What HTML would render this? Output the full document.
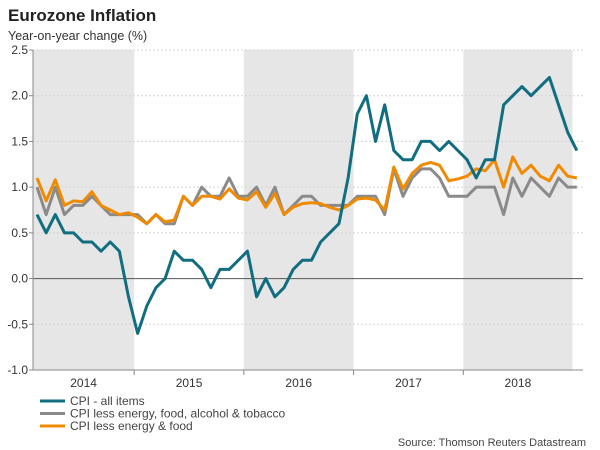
<!DOCTYPE html>
<html><head><meta charset="utf-8"><style>
body{margin:0;background:#fff;font-family:"Liberation Sans",sans-serif;}
svg{display:block}
</style></head><body>
<svg width="600" height="450" xmlns="http://www.w3.org/2000/svg">
<text x="8" y="21" font-size="17" font-weight="bold" fill="#222">Eurozone Inflation</text>
<text x="8" y="40" font-size="12.5" fill="#333">Year-on-year change (%)</text>
<g id="shade"></g><g id="grid"></g><g id="axes"></g><g id="series"></g>
<g font-size="12" fill="#444">
<line x1="40" y1="401" x2="65" y2="401" stroke="#116e80" stroke-width="3"/>
<text x="70" y="405">CPI - all items</text>
<line x1="40" y1="413.5" x2="65" y2="413.5" stroke="#8a8a8a" stroke-width="3"/>
<text x="70" y="417.5">CPI less energy, food, alcohol &amp; tobacco</text>
<line x1="40" y1="426" x2="65" y2="426" stroke="#f08a00" stroke-width="3"/>
<text x="70" y="430">CPI less energy &amp; food</text>
</g>
<text x="586" y="446" font-size="11" fill="#444" text-anchor="end">Source: Thomson Reuters Datastream</text>
</svg>
<script>
const years=["2014","2015","2016","2017","2018"];
const yTicks=[2.5,2.0,1.5,1.0,0.5,0.0,-0.5,-1.0];
const cpiAll=[0.7,0.5,0.7,0.5,0.5,0.4,0.4,0.3,0.4,0.3,-0.2,-0.6,-0.3,-0.1,0.0,0.3,0.2,0.2,0.1,-0.1,0.1,0.1,0.2,0.3,-0.2,0.0,-0.2,-0.1,0.1,0.2,0.2,0.4,0.5,0.6,1.1,1.8,2.0,1.5,1.9,1.4,1.3,1.3,1.5,1.5,1.4,1.5,1.4,1.3,1.1,1.3,1.3,1.9,2.0,2.1,2.0,2.1,2.2,1.9,1.6,1.4];
const cpiCore=[1.0,0.7,1.0,0.7,0.8,0.8,0.9,0.8,0.7,0.7,0.7,0.7,0.6,0.7,0.6,0.6,0.9,0.8,1.0,0.9,0.9,1.1,0.9,0.9,1.0,0.8,1.0,0.7,0.8,0.9,0.9,0.8,0.8,0.8,0.8,0.9,0.9,0.9,0.7,1.2,0.9,1.1,1.2,1.2,1.1,0.9,0.9,0.9,1.0,1.0,1.0,0.7,1.1,0.9,1.1,1.0,0.9,1.1,1.0,1.0];
const cpiExEF=[1.1,0.85,1.08,0.8,0.85,0.84,0.95,0.8,0.75,0.7,0.72,0.67,0.6,0.7,0.62,0.64,0.9,0.8,0.9,0.9,0.87,0.98,0.88,0.86,0.95,0.78,0.93,0.7,0.78,0.82,0.83,0.82,0.78,0.75,0.8,0.87,0.88,0.86,0.75,1.22,0.98,1.15,1.24,1.27,1.24,1.07,1.09,1.12,1.2,1.18,1.3,1.0,1.33,1.15,1.24,1.12,1.07,1.24,1.12,1.1];
const NS="http://www.w3.org/2000/svg";
const X0=37,DX=9.15,PL=33,PR=583,PT=50,PB=370,VMIN=-1,VMAX=2.5;
const xi=i=>X0+i*DX;
const yv=v=>PB-(v-VMIN)/(VMAX-VMIN)*(PB-PT);
const yearStart=k=>Math.max(PL,24.5+k*109.7);
const yearEnd=k=>Math.min(572.5,24.5+(k+1)*109.7);
function mk(tag,attrs,parent){const e=document.createElementNS(NS,tag);for(const k in attrs)e.setAttribute(k,attrs[k]);document.getElementById(parent).appendChild(e);return e;}
years.forEach((y,k)=>{
  const s=yearStart(k),e=yearEnd(k);
  if(k%2===0){const r=mk('rect',{x:s,y:PT,width:e-s,height:PB-PT,fill:'#e6e6e6'},'shade');
  
  }
  const t=mk('text',{x:(s+e)/2,y:387,'font-size':12,fill:'#333','text-anchor':'middle'},'axes');
  t.textContent=y;
  
  
  if(k>0){const tk=mk('line',{x1:s,x2:s,y1:PB,y2:PB+5,stroke:'#888'},'axes');
  
  }
});
yTicks.forEach(v=>{
  const y=yv(v);
  const g=mk('line',{x1:PL,x2:PR,y1:y,y2:y,stroke:v===0?'#555':'#d4d4d4','stroke-width':1,'stroke-dasharray':v===0?'':'2,2'},'grid');
  
  
  const t=mk('text',{x:28,y:y+4,'font-size':12,fill:'#333','text-anchor':'end'},'axes');
  t.textContent=v.toFixed(1);
  
  
  const tk=mk('line',{x1:PL-4,x2:PL,y1:y,y2:y,stroke:'#888'},'axes');
  
  
});
const ax=mk('line',{x1:PL,x2:PL,y1:PT,y2:PB,stroke:'#888'},'axes');


const bx=mk('line',{x1:PL,x2:PR,y1:PB,y2:PB,stroke:'#888'},'axes');


function line(data,color,name){
  const p=mk('polyline',{points:data.map((v,i)=>xi(i)+','+yv(v)).join(' '),fill:'none',stroke:color,'stroke-width':3,'stroke-linejoin':'round'},'series');
  
  
}
line(cpiCore,'#8a8a8a','series-cpi-core');
line(cpiExEF,'#f08a00','series-cpi-ex-energy-food');
line(cpiAll,'#116e80','series-cpi-all-items');
</script>
</body></html>
